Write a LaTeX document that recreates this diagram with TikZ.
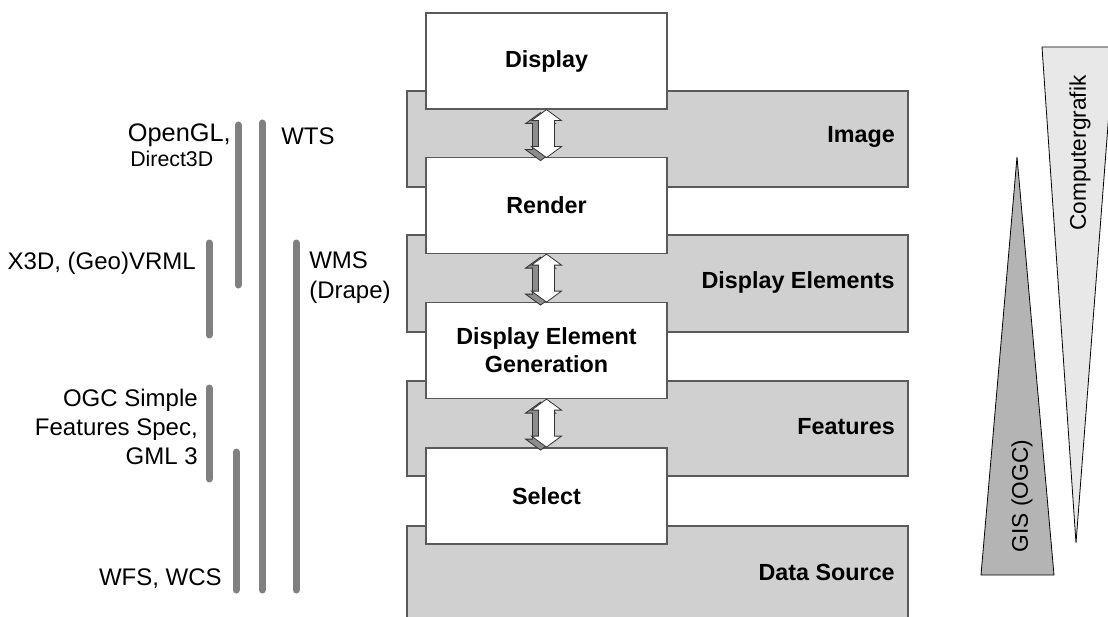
\documentclass[tikz,border=0pt]{standalone}
\usepackage{fontspec}
\setmainfont{Liberation Sans}
\usetikzlibrary{calc}
\definecolor{bandfill}{HTML}{D0D0D0}
\definecolor{bordergray}{HTML}{5A5A5A}
\definecolor{barg}{HTML}{808080}
\definecolor{cgfill}{HTML}{E8E8E8}
\definecolor{gisfill}{HTML}{B4B4B4}
\definecolor{shadowg}{HTML}{8C8C8C}
\begin{document}
\begin{tikzpicture}[x=0.75pt,y=-0.75pt,
  bandbox/.style={draw=bordergray,fill=bandfill,line width=0.9pt},
  whitebox/.style={draw=bordergray,fill=white,line width=0.9pt,
    minimum width=180.75pt,minimum height=72pt,align=center,inner sep=0pt,
    font=\fontsize{17.5}{21}\selectfont\bfseries},
  bandlabel/.style={anchor=east,inner sep=0pt,font=\fontsize{17.5}{21}\selectfont\bfseries},
  lab/.style={inner sep=0pt,font=\fontsize{18}{21.5}\selectfont},
  smalllab/.style={inner sep=0pt,font=\fontsize{16}{19}\selectfont},
  bar/.style={draw=barg,line width=5.25pt,line cap=round},
  tri/.style={draw=black,line width=0.6pt},
  trilabel/.style={inner sep=0pt,rotate=90,font=\fontsize{17}{20}\selectfont},
  arrowfront/.style={draw=black!80,fill=white,line width=0.6pt,line join=miter},
  arrowback/.style={draw=black!80,fill=shadowg,line width=0.6pt}
]
\useasboundingbox[fill=white] (0,0) rectangle (1108,617);

% bands
\draw[bandbox] (407,91) rectangle (908,187);
\draw[bandbox] (407,235) rectangle (908,332);
\draw[bandbox] (407,381) rectangle (908,476);
\draw[bandbox] (407,526) rectangle (908,620);
\node[bandlabel] (limage) at (895,137) {Image};
\node[bandlabel] (lde) at (895,282) {Display Elements};
\node[bandlabel] (lfeat) at (895,427) {Features};
\node[bandlabel] (lds) at (895,572) {Data Source};

% white boxes
\node[whitebox] (display) at (546.5,61) {Display};
\node[whitebox] (render) at (546.5,205.5) {Render};
\node[whitebox] (deg) at (546.5,350.5) {Display Element\\Generation};
\node[whitebox] (select) at (546.5,496) {Select};

% 3D double arrows
\foreach \a/\b in {display/render,render/deg,deg/select}{
  \draw[arrowback,shift={(\a.south)},xshift=-4.5pt,yshift=-2.25pt]
    (0,0) -- (15,11) -- (8,11) -- (8,37) -- (15,37) -- (0,48) -- (-15,37) -- (-8,37) -- (-8,11) -- (-15,11) -- cycle;
  \draw[arrowfront,shift={(\a.south)}]
    (0,0) -- (15,11) -- (8,11) -- (8,37) -- (15,37) -- (0,48) -- (-15,37) -- (-8,37) -- (-8,11) -- (-15,11) -- cycle;
}

% left bars
\draw[bar] (238,125) -- (238,285);
\draw[bar] (262,123) -- (262,590);
\draw[bar] (209,243) -- (209,335);
\draw[bar] (296,243) -- (296,590);
\draw[bar] (209,388) -- (209,479);
\draw[bar] (236,452) -- (236,590);

% left labels
\node[lab,anchor=east,font=\fontsize{19}{22}\selectfont] (ogl) at (231,135) {OpenGL,};
\node[smalllab,anchor=west] (d3d) at (130,159) {Direct3D};
\node[lab,anchor=west] (wts) at (281,136) {WTS};
\node[lab,anchor=east] (x3d) at (196,263) {X3D, (Geo)VRML};
\node[lab,anchor=west,align=left,font=\fontsize{18}{22.5}\selectfont] (wms) at (309,278) {WMS\\(Drape)};
\node[lab,anchor=east,align=right] (ogc) at (198,427) {OGC Simple\\Features Spec,\\GML 3};
\node[lab,anchor=east] (wfs) at (222,579) {WFS, WCS};

% triangles
\draw[tri,fill=cgfill] (1042,47) -- (1114,47) -- (1076,543) -- cycle;
\node[trilabel] (cg) at (1080,153) {Computergrafik};
\draw[tri,fill=gisfill] (1017,157) -- (1054,575) -- (981,575) -- cycle;
\node[trilabel] (gis) at (1022,496) {GIS (OGC)};
\end{tikzpicture}
\end{document}
